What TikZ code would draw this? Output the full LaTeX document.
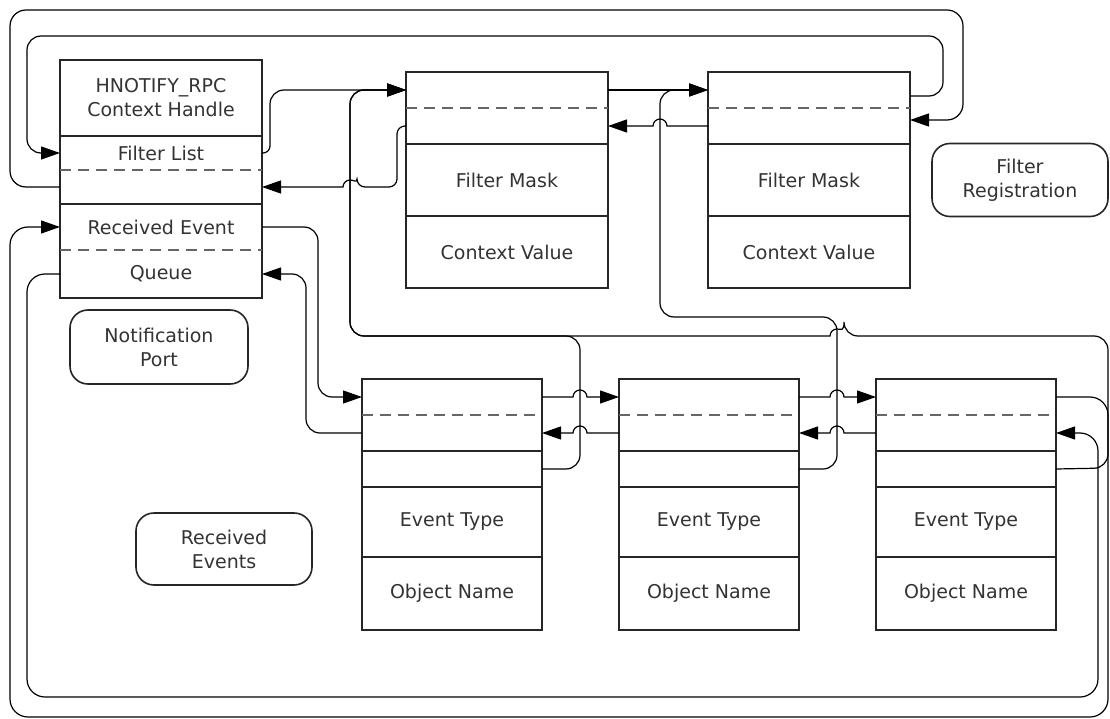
\documentclass[tikz,border=0pt]{standalone}
\usepackage{fontspec}
\setmainfont{DejaVu Sans}
\usetikzlibrary{positioning,arrows.meta}

\tikzset{
  cellbox/.style 2 args={minimum width=#1, minimum height=#2, inner sep=0pt, outer sep=0pt, align=center},
  box/.style={draw=black!85, line width=1.2pt},
  sep/.style={draw=black!60, line width=1.2pt, dash pattern=on 11pt off 7pt},
  tag/.style={draw=black!85, line width=1.6pt, rounded corners=18pt, align=center, inner sep=0pt},
  link/.style={line width=1.2pt, rounded corners=14pt, -{Triangle[length=19pt,width=13pt]}},
}

\begin{document}
\begin{tikzpicture}[x=1pt, y=-1pt, font=\fontsize{19}{24}\selectfont, text=black!80]
\fill[white] (0,0) rectangle (1110,719);
\useasboundingbox (0,0) rectangle (1110,719);

% notification port
\node[cellbox={202pt}{76pt}, anchor=north west] (hctx) at (60,60) {HNOTIFY\_RPC\\Context Handle};
\node[cellbox={202pt}{34pt}, below=0pt of hctx] (hfl) {Filter List};
\node[cellbox={202pt}{34pt}, below=0pt of hfl] (hfb) {};
\node[cellbox={202pt}{46pt}, below=0pt of hfb] (hqf) {Received Event};
\node[cellbox={202pt}{48pt}, below=0pt of hqf] (hqb) {Queue};
\draw[box] (hctx.north west) rectangle (hqb.south east);
\draw[box] (hfl.north west) -- (hfl.north east);
\draw[sep] (hfl.south west) -- (hfl.south east);
\draw[box] (hqf.north west) -- (hqf.north east);
\draw[sep] (hqf.south west) -- (hqf.south east);

% filter registrations
\node[cellbox={202pt}{36pt}, anchor=north west] (faf) at (406,72) {};
\node[cellbox={202pt}{36pt}, below=0pt of faf] (fab) {};
\node[cellbox={202pt}{72pt}, below=0pt of fab] (fam) {Filter Mask};
\node[cellbox={202pt}{72pt}, below=0pt of fam] (fav) {Context Value};
\draw[box] (faf.north west) rectangle (fav.south east);
\draw[sep] (faf.south west) -- (faf.south east);
\draw[box] (fam.north west) -- (fam.north east);
\draw[box] (fav.north west) -- (fav.north east);

\node[cellbox={202pt}{36pt}, anchor=north west] (fbf) at (708,72) {};
\node[cellbox={202pt}{36pt}, below=0pt of fbf] (fbb) {};
\node[cellbox={202pt}{72pt}, below=0pt of fbb] (fbm) {Filter Mask};
\node[cellbox={202pt}{72pt}, below=0pt of fbm] (fbv) {Context Value};
\draw[box] (fbf.north west) rectangle (fbv.south east);
\draw[sep] (fbf.south west) -- (fbf.south east);
\draw[box] (fbm.north west) -- (fbm.north east);
\draw[box] (fbv.north west) -- (fbv.north east);

% received events
\node[cellbox={180pt}{36pt}, anchor=north west] (eaf) at (362,379) {};
\node[cellbox={180pt}{36pt}, below=0pt of eaf] (eab) {};
\node[cellbox={180pt}{36pt}, below=0pt of eab] (eap) {};
\node[cellbox={180pt}{70pt}, below=0pt of eap] (eat) {Event Type};
\node[cellbox={180pt}{73pt}, below=0pt of eat] (ean) {Object Name};
\draw[box] (eaf.north west) rectangle (ean.south east);
\draw[sep] (eaf.south west) -- (eaf.south east);
\draw[box] (eap.north west) -- (eap.north east);
\draw[box] (eat.north west) -- (eat.north east);
\draw[box] (ean.north west) -- (ean.north east);

\node[cellbox={180pt}{36pt}, anchor=north west] (ebf) at (619,379) {};
\node[cellbox={180pt}{36pt}, below=0pt of ebf] (ebb) {};
\node[cellbox={180pt}{36pt}, below=0pt of ebb] (ebp) {};
\node[cellbox={180pt}{70pt}, below=0pt of ebp] (ebt) {Event Type};
\node[cellbox={180pt}{73pt}, below=0pt of ebt] (ebn) {Object Name};
\draw[box] (ebf.north west) rectangle (ebn.south east);
\draw[sep] (ebf.south west) -- (ebf.south east);
\draw[box] (ebp.north west) -- (ebp.north east);
\draw[box] (ebt.north west) -- (ebt.north east);
\draw[box] (ebn.north west) -- (ebn.north east);

\node[cellbox={180pt}{36pt}, anchor=north west] (ecf) at (876,379) {};
\node[cellbox={180pt}{36pt}, below=0pt of ecf] (ecb) {};
\node[cellbox={180pt}{36pt}, below=0pt of ecb] (ecp) {};
\node[cellbox={180pt}{70pt}, below=0pt of ecp] (ect) {Event Type};
\node[cellbox={180pt}{73pt}, below=0pt of ect] (ecn) {Object Name};
\draw[box] (ecf.north west) rectangle (ecn.south east);
\draw[sep] (ecf.south west) -- (ecf.south east);
\draw[box] (ecp.north west) -- (ecp.north east);
\draw[box] (ect.north west) -- (ect.north east);
\draw[box] (ecn.north west) -- (ecn.north east);

% captions
\node[tag, minimum width=178pt, minimum height=74pt] (np) at (159,347) {Notification\\Port};
\node[tag, minimum width=176pt, minimum height=73pt] (fr) at (1020,180) {Filter\\Registration};
\node[tag, minimum width=176pt, minimum height=72pt] (re) at (224,549) {Received\\Events};

% filter list
\draw[link, rounded corners=7pt] (hfl.east) -- ++(8,0) [rounded corners=14pt] |- (faf.west);
\draw[link] (faf.east) -- (fbf.west);
\draw[link] ([yshift=-6pt]fbf.east) -- ++(33,0) |- (27,36) |- (hfl.west);
\draw[link, rounded corners=16pt] (hfb.west) -- ++(-50,0) |- (963,10) |- ([yshift=6pt]fbb.east);
\draw[link, sharp corners] (fbb.west) -- (667,126) arc[start angle=0, end angle=180, radius=7pt] -- (fab.east);
\draw[link, rounded corners=8pt] (fab.west) -- ++(-9,0) |- (357,187)
  [sharp corners] arc[start angle=0, end angle=180, radius=7pt] -- (hfb.east);

% event to filter
\draw[link] (eap.east) -- ++(38,0) |- (350,336) |- (faf.west);
\draw[link] (ebp.east) -- ++(38,0) |- (660,317) |- (fbf.west);
\draw[link] (ecp.east) -- (1108,468) |- (844,336)
  [sharp corners] arc[start angle=0, end angle=180, radius=7pt]
  [rounded corners=14pt] -- (350,336) |- (faf.west);

% event queue
\draw[link] (hqf.east) -- ++(56,0) |- (eaf.west);
\draw[link] (eab.west) -- ++(-56,0) |- (hqb.east);
\draw[link, sharp corners] (eaf.east) -- (573,397) arc[start angle=180, end angle=0, radius=7pt] -- (ebf.west);
\draw[link, sharp corners] (ebb.west) -- (587,433) arc[start angle=0, end angle=180, radius=7pt] -- (eab.east);
\draw[link, sharp corners] (ebf.east) -- (830,397) arc[start angle=180, end angle=0, radius=7pt] -- (ecf.west);
\draw[link, sharp corners] (ecb.west) -- (844,433) arc[start angle=0, end angle=180, radius=7pt] -- (ebb.east);
\draw[link, rounded corners=18pt] (ecf.east) -- ++(52,0) |- (10,717) |- (hqf.west);
\draw[link, rounded corners=18pt] (hqb.west) -- ++(-33,0) |- (1098,697) |- (ecb.east);
\end{tikzpicture}
\end{document}
